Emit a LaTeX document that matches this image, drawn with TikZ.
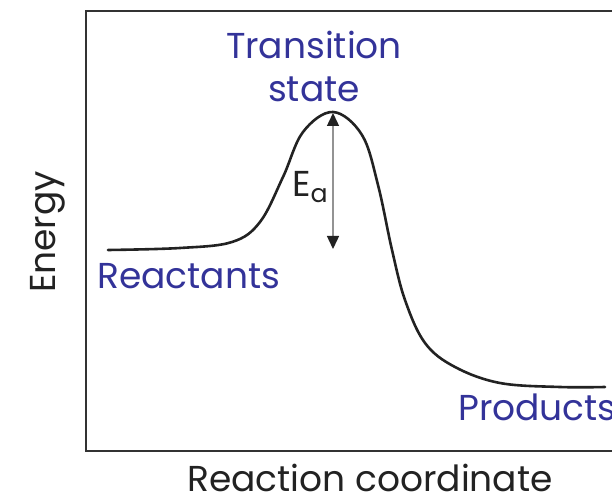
\documentclass[tikz,border=0pt]{standalone}
\usepackage{fontspec}
\setmainfont{Poppins}
\usepackage{xcolor}
\usepackage{tikz}
\usetikzlibrary{arrows.meta, positioning}

\definecolor{labelblue}{HTML}{333399}
\definecolor{inkgray}{HTML}{222222}

\begin{document}
\begin{tikzpicture}[
    x=1pt, y=-1pt,
    label/.style={text=labelblue, inner sep=0pt, font=\fontsize{36}{40}\selectfont, align=center},
    axislabel/.style={text=inkgray, inner sep=0pt, font=\fontsize{36}{40}\selectfont},
    curve/.style={draw=inkgray, line width=2.6pt, line cap=round},
    gap/.style={draw=gray!85, line width=1.4pt, {Triangle[length=13pt,width=12pt,color=inkgray]}-{Triangle[length=13pt,width=12pt,color=inkgray]}},
]
    \useasboundingbox (0,0) rectangle (612,502);

    % Frame
    \draw[draw=black!80, line width=1.8pt] (612,11) -- (86,11) -- (86,451) -- (612,451);

    % Energy profile
    \draw[curve] plot[smooth, tension=0.6] coordinates {
        (108,250) (180,248) (232,242) (260,222) (283,177)
        (303,132) (333,112) (362,135) (378,185)
        (392,250) (405,300) (425,343) (455,367) (500,383)
        (560,387) (605,387)};

    % Activation energy
    \coordinate (peak) at (333,113);
    \coordinate (base) at (333,249);
    \draw[gap] (peak) -- (base);
    \node[axislabel, anchor=base west] (ea) at (292,197) {E\textsubscript{a}};

    % Labels
    \node[label, anchor=base] (ts) at (314,102) {Transition\\[3pt]state};
    \node[label, anchor=base west] (react) at (97,288) {Reactants};
    \node[label, anchor=base west] (prod) at (458,420) {Products};

    % Axis titles
    \node[axislabel, rotate=90, anchor=base] (energy) at (55,232) {Energy};
    \node[axislabel, anchor=base] (coord) at (370,491) {Reaction coordinate};

\end{tikzpicture}
\end{document}
